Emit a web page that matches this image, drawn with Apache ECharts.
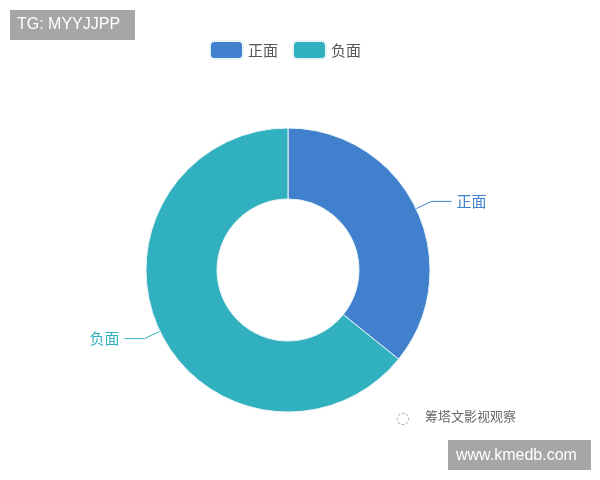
<!DOCTYPE html>
<html lang="zh">
<head>
    <meta charset="utf-8">
    <title>正面负面占比</title>
    <script type="text/javascript" src="https://cdn.jsdelivr.net/npm/echarts@6/dist/echarts.min.js"></script>
    <style>
        html, body { margin: 0; padding: 0; background: #fff; }
        #main { width: 600px; height: 480px; }
    </style>
</head>
<body>
<div id="main"></div>
<script type="text/javascript">
    // 数据
    var categories = ['正面', '负面'];
    var values = [35.8, 64.2];
    var colors = ['#4080cc', '#31b1bf'];

    var myChart = echarts.init(document.getElementById("main"));

    var pieData = [];
    for (var i = 0; i < categories.length; i++) {
        pieData.push({
            name: categories[i],
            value: values[i],
            itemStyle: { color: colors[i] },
            label: { color: colors[i] },
            labelLine: { lineStyle: { color: colors[i] } }
        });
    }

    var option = {
        backgroundColor: '#fff',
        textStyle: { fontFamily: '"Noto Sans CJK SC", sans-serif' },
        legend: {
            data: categories,
            left: 204,
            top: 35,
            itemWidth: 33,
            itemHeight: 18,
            itemGap: 14,
            icon: 'roundRect',
            textStyle: { fontSize: 15, color: '#555' }
        },
        series: [
            {
                type: 'pie',
                center: [288, 270],
                radius: [71, 142],
                startAngle: 90,
                clockwise: true,
                avoidLabelOverlap: false,
                itemStyle: { borderColor: '#e8f4f8', borderWidth: 1 },
                label: {
                    show: true,
                    formatter: '{b}',
                    fontSize: 15,
                    distanceToLabelLine: 5
                },
                labelLine: { length: 17, length2: 20, lineStyle: { width: 1 } },
                emphasis: { scale: false },
                data: pieData
            }
        ],
        graphic: [
            {
                type: 'rect', left: 10, top: 10,
                shape: { width: 125, height: 30 },
                style: { fill: '#a6a6a6' }
            },
            {
                type: 'text', left: 17, top: 17,
                style: { text: 'TG: MYYJJPP', fill: '#fff', font: '16px "Liberation Sans", sans-serif' }
            },
            {
                type: 'rect', left: 448, top: 440,
                shape: { width: 143, height: 30 },
                style: { fill: '#a6a6a6' }
            },
            {
                type: 'text', left: 456, top: 448,
                style: { text: 'www.kmedb.com', fill: '#fff', font: '16px "Liberation Sans", sans-serif' }
            },
            {
                type: 'text', left: 396, top: 411,
                style: { text: '◌', fill: '#aaa', font: '16px "DejaVu Sans", sans-serif' }
            },
            {
                type: 'text', left: 425, top: 410,
                style: { text: '筹塔文影视观察', fill: '#666', font: '13px "Noto Sans CJK SC", sans-serif' }
            }
        ]
    };

    myChart.setOption(option);
</script>
</body>
</html>
